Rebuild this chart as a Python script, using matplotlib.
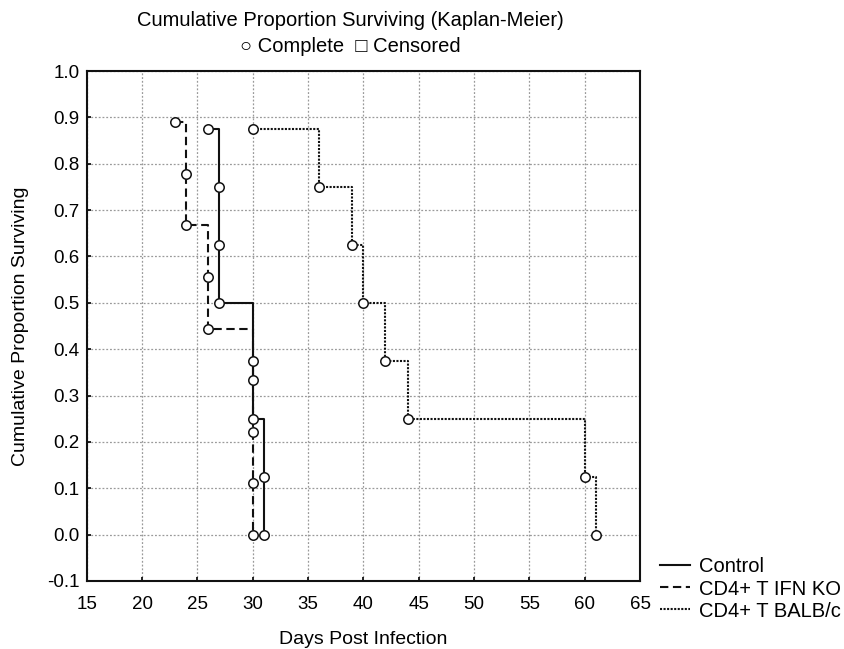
import matplotlib
matplotlib.use("Agg")
import matplotlib.pyplot as plt

plt.rcParams['font.family'] = ['Liberation Sans', 'DejaVu Sans']

# survival events (day of death, cumulative proportion surviving)
control_days = [26, 27, 27, 27, 30, 30, 31, 31]
control_surv = [0.875, 0.75, 0.625, 0.5, 0.375, 0.25, 0.125, 0.0]

ifnko_days = [23, 24, 24, 26, 26, 30, 30, 30, 30]
ifnko_surv = [0.889, 0.778, 0.667, 0.556, 0.444, 0.333, 0.222, 0.111, 0.0]

balbc_days = [30, 36, 39, 40, 42, 44, 60, 61]
balbc_surv = [0.875, 0.75, 0.625, 0.5, 0.375, 0.25, 0.125, 0.0]

xticks = [15, 20, 25, 30, 35, 40, 45, 50, 55, 60, 65]
yticks = [-0.1, 0.0, 0.1, 0.2, 0.3, 0.4, 0.5, 0.6, 0.7, 0.8, 0.9, 1.0]

fig = plt.figure(figsize=(8.44, 6.49), dpi=100)
ax = fig.add_axes([0.1027, 0.1048, 0.6556, 0.7858])

series = [
    (control_days, control_surv, '-', 'Control'),
    (ifnko_days, ifnko_surv, (0, (4, 2.2)), 'CD4+ T IFN KO'),
    (balbc_days, balbc_surv, (0, (1, 0.7)), 'CD4+ T BALB/c'),
]
for days, surv, ls, name in series:
    ax.step(days, surv, where='post', color='#111111', lw=1.5, ls=ls, label=name, zorder=3)
    ax.plot(days, surv, 'o', ms=6.8, mfc='white', mec='#111111', mew=1.1, zorder=4)

ax.set_xlim(15, 65)
ax.set_ylim(-0.1, 1.0)
ax.set_xticks(xticks)
ax.set_yticks(yticks)
ax.set_yticklabels(['%.1f' % v for v in yticks])
ax.tick_params(direction='in', length=3, width=1.2, labelsize=13.5)
ax.tick_params(axis='x', pad=11)
ax.tick_params(axis='y', pad=5)
ax.grid(True, color='#9a9a9a', ls=(0, (1.5, 1.5)), lw=0.9)
for s in ax.spines.values():
    s.set_linewidth(1.5)
    s.set_color('#111111')

ax.set_xlabel('Days Post Infection', fontsize=14, labelpad=13)
ax.set_ylabel('Cumulative Proportion Surviving', fontsize=14, labelpad=13)

fig.text(0.415, 0.968, 'Cumulative Proportion Surviving (Kaplan-Meier)',
         ha='center', va='center', fontsize=14.5)
fig.text(0.415, 0.929, '\u25cb Complete  \u25a1 Censored',
         ha='center', va='center', fontsize=14.5,
         family=['Liberation Sans', 'DejaVu Sans'])

fig.legend(loc='upper left', bbox_to_anchor=(0.782, 0.141), frameon=False,
           fontsize=14.5, handlelength=1.5, handletextpad=0.45,
           labelspacing=0.15, borderpad=0, borderaxespad=0)

fig.savefig('out.png', dpi=100, facecolor='white')
